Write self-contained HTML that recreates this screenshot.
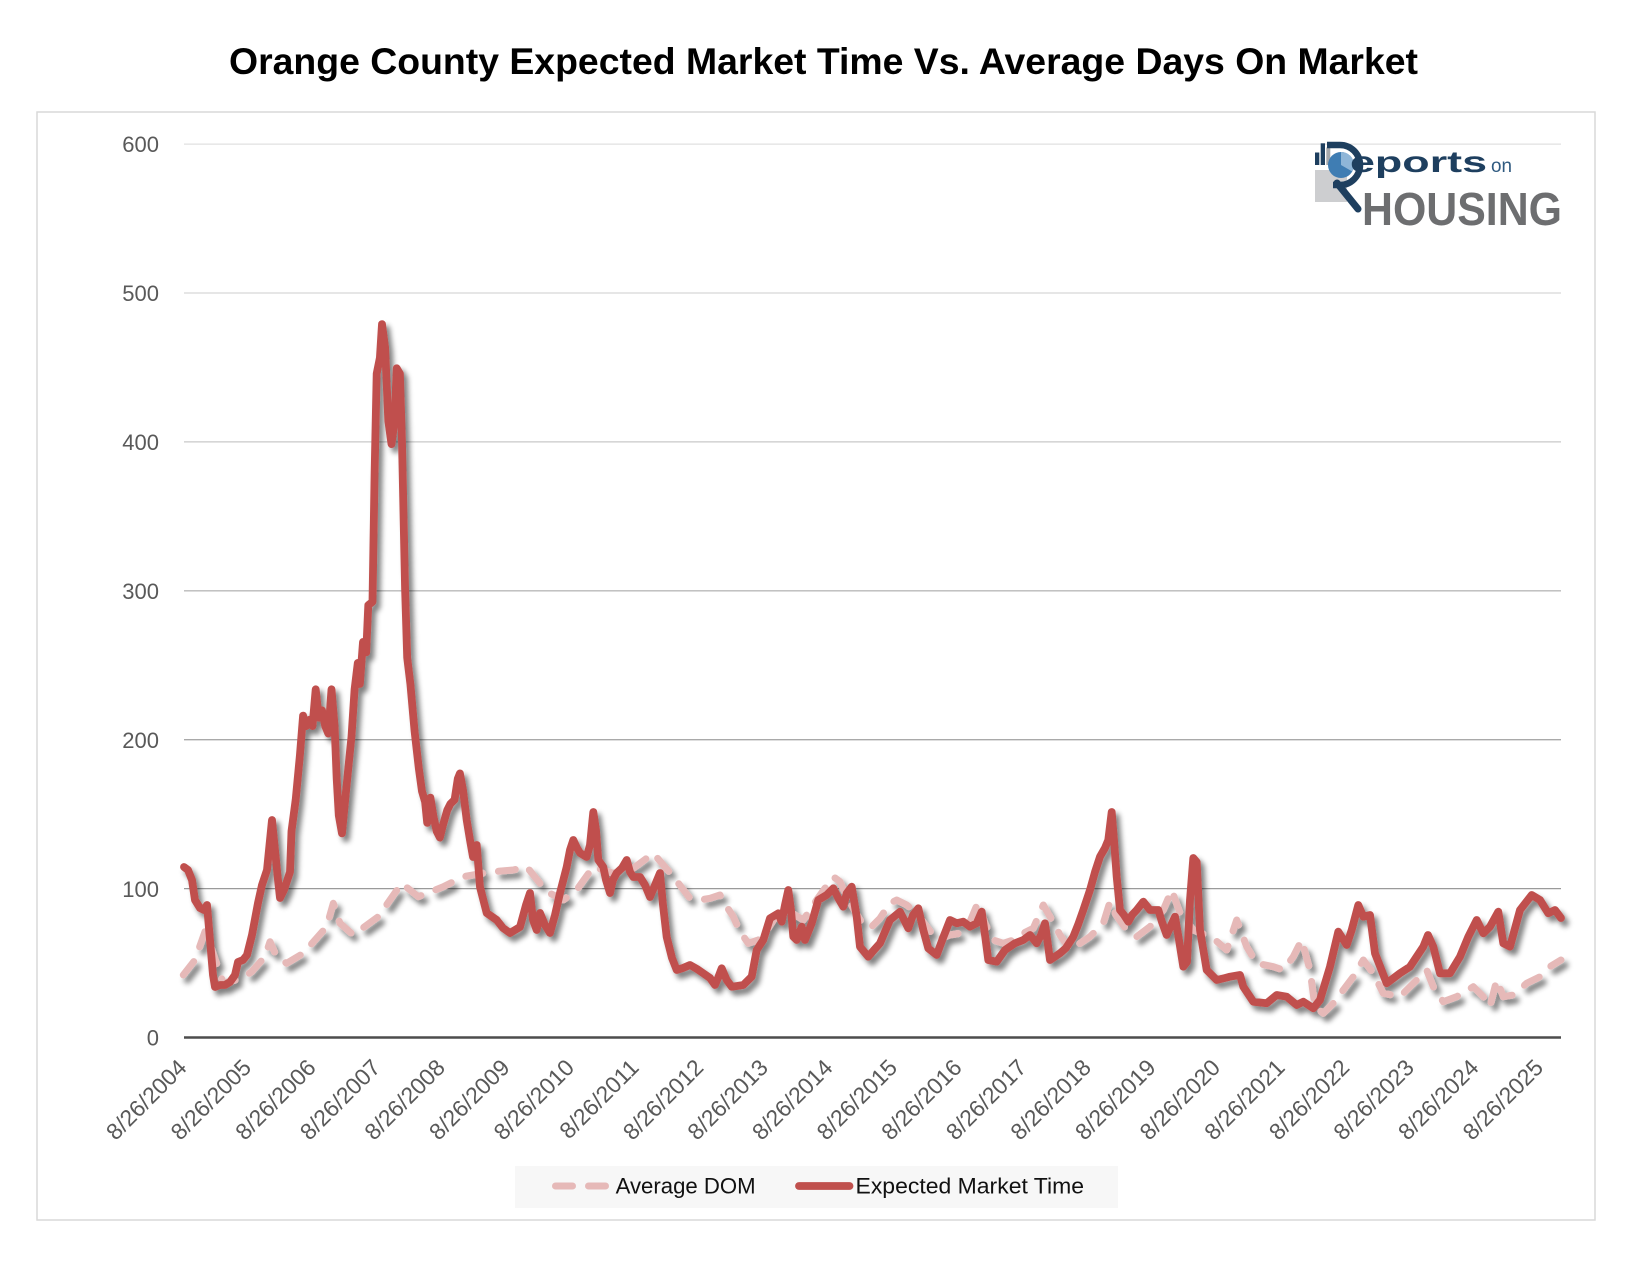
<!DOCTYPE html>
<html>
<head>
<meta charset="utf-8">
<style>
  html, body { margin: 0; padding: 0; background: #ffffff; }
  svg { display: block; }
</style>
</head>
<body>
<svg xmlns="http://www.w3.org/2000/svg" width="1650" height="1275" viewBox="0 0 1650 1275">
  <defs>
    <filter id="sh" x="-5%" y="-5%" width="110%" height="110%">
      <feGaussianBlur in="SourceAlpha" stdDeviation="2.6" result="b"/>
      <feOffset in="b" dx="4" dy="5" result="o"/>
      <feComponentTransfer in="o" result="s"><feFuncA type="linear" slope="0.5"/></feComponentTransfer>
      <feMerge><feMergeNode in="s"/><feMergeNode in="SourceGraphic"/></feMerge>
    </filter>
  </defs>
  <rect width="1650" height="1275" fill="#ffffff"/>

  <!-- Title -->
  <text x="823.5" y="74" text-anchor="middle" font-family="'Liberation Sans', Arial, sans-serif" font-weight="bold" font-size="37" fill="#000" textLength="1189" lengthAdjust="spacingAndGlyphs">Orange County Expected Market Time Vs. Average Days On Market</text>

  <!-- Chart frame -->
  <rect x="37" y="112" width="1558" height="1108" fill="#ffffff" stroke="#d9d9d9" stroke-width="1.5"/>

  <!-- Gridlines -->
  <g stroke-width="1.3">
    <line x1="184" y1="144.1" x2="1561" y2="144.1" stroke="#e0e0e0"/>
    <line x1="184" y1="293.0" x2="1561" y2="293.0" stroke="#d6d6d6"/>
    <line x1="184" y1="441.9" x2="1561" y2="441.9" stroke="#c9c9c9"/>
    <line x1="184" y1="590.8" x2="1561" y2="590.8" stroke="#b9b9b9"/>
    <line x1="184" y1="739.7" x2="1561" y2="739.7" stroke="#a9a9a9"/>
    <line x1="184" y1="888.6" x2="1561" y2="888.6" stroke="#9a9a9a"/>
  </g>

  <!-- Y labels -->
  <g font-family="'Liberation Sans', Arial, sans-serif" font-size="22" fill="#595959" text-anchor="end">
    <text x="159" y="152">600</text>
    <text x="159" y="301">500</text>
    <text x="159" y="450">400</text>
    <text x="159" y="599">300</text>
    <text x="159" y="748">200</text>
    <text x="159" y="897">100</text>
    <text x="159" y="1045.5">0</text>
  </g>

  <!-- Logo -->
  <g>
    <rect x="1315" y="170" width="32" height="32" fill="#cdced0"/>
    <rect x="1315" y="152.5" width="4.3" height="12.5" fill="#1e3f5f"/>
    <rect x="1320.7" y="143.3" width="4.3" height="21.7" fill="#1e3f5f"/>
    <rect x="1326.3" y="147.5" width="4" height="17.5" fill="#a7a9ac"/>
    <circle cx="1341" cy="165" r="13" fill="#3f7db3"/>
    <path d="M1341,165 L1341,152 A13,13 0 0 1 1352.3,171.5 Z" fill="#8fb6d8"/>
    <path d="M1327,145 L1340,145 A20,20 0 0 1 1340,185 L1333,185" fill="none" stroke="#1e3f5f" stroke-width="6.5"/>
    <line x1="1337" y1="183" x2="1358" y2="209" stroke="#1e3f5f" stroke-width="7" stroke-linecap="round"/>
    <text x="1350" y="172" font-family="'Liberation Sans', Arial, sans-serif" font-weight="bold" font-size="30" fill="#1e3f5f" textLength="137" lengthAdjust="spacingAndGlyphs">eports</text>
    <text x="1491" y="172" font-family="'Liberation Sans', Arial, sans-serif" font-size="19" fill="#2f5a80" textLength="21" lengthAdjust="spacingAndGlyphs">on</text>
    <text x="1362" y="225" font-family="'Liberation Sans', Arial, sans-serif" font-weight="bold" font-size="46" fill="#6d6e70" textLength="200" lengthAdjust="spacingAndGlyphs">HOUSING</text>
  </g>

  <!-- Series -->
  <g filter="url(#sh)" fill="none" stroke-linejoin="round">
    <polyline stroke="#e6b9b8" stroke-width="7" stroke-linecap="round" stroke-dasharray="17 16"
      points="183.3,975 195,960 205,931.7 212,950 223.3,983.3 241.7,978.3 251.7,971.7 265,956.7 270,941.7 276.7,956.7 286.7,963.3 303.3,953.3 326.7,926.7 333.3,903.3 340,923.3 353.3,935 378.3,916.7 401.7,883.3 418.3,896.7 443.3,886.7 463.3,876.7 490,872 513.3,870 526.7,866.7 546.7,891.7 563.3,900 576.7,890 593.3,866.7 613.3,873.3 633.3,868.3 653.3,853.3 673.3,876.7 690,898.3 700,900 710,898.3 720,895 726.7,906.7 733.3,916.7 740,931.7 748.3,943.3 758.3,940 768.3,928.3 776.7,915 790,912 803.3,920 818,898 833.3,876.7 840,881.7 846.7,896.7 860,920 870,928.3 880,918.3 890,903.3 896.7,900 906.7,905 916.7,913.3 926.7,926.7 936.7,940 950,935 960,933.3 970,921.7 978.3,901.7 985,923.3 993.3,940 1003.3,943.3 1013.3,940 1023.3,933.3 1033.3,928.3 1043.3,905 1050,916.7 1060,935 1070,950 1090,936.7 1103.3,923.3 1110,901.7 1116,915 1126.7,930 1136.7,936.7 1150,926.7 1163.3,910 1171.7,890 1180,913 1193.3,930 1213.3,938.3 1226.7,950 1236.7,920 1246.7,946.7 1256.7,963.3 1273.3,966.7 1283.3,970 1293.3,956.7 1301.7,940 1310,970 1315,1006.7 1323.3,1013.3 1333.3,1003.3 1343.3,990 1353.3,976.7 1363.3,960 1373.3,973.3 1383.3,993.3 1400,996.7 1416.7,980 1426.7,970 1433.3,986.7 1443.3,1001.7 1456.7,996.7 1473.3,986.7 1483.3,996.7 1490,1006.7 1496.7,980 1503.3,996.7 1513.3,995 1526.7,983.3 1540,976.7 1550,966.7 1561,960"/>
    <polyline stroke="#c0504d" stroke-width="7.8" stroke-linecap="round"
      points="184,867 188,870 192,880 195,900 200,908 204,910 207,905 210,940 213,975 215,987 220,985 225,985 230,982 235,975 238,962 243,960 247,955 252,935 258,903 262,885 267,870 270,840 272,820 275,850 278,880 280,898 284,890 290,872 291.5,831.3 295.7,799.7 299.9,755.5 303.1,715.6 306.2,726.1 309.4,719.8 312.5,726.1 315.7,689.3 318.8,717.7 322,710.3 325.2,726.1 328.3,733.5 331.5,689.3 334.6,726.1 336.7,778.7 338.8,815.5 342,833.4 345.2,799.7 348.3,768.2 351.5,736.6 354.6,689.3 357.8,662.9 359.9,684 363,641.9 366.2,652.4 368.3,605.1 372.5,601.9 374.6,473.5 376.7,373.6 379.9,357.8 382,324.1 385.1,347.3 388.3,420.9 391.5,444.1 394.6,420.9 396.7,368.3 399.9,373.6 402,442 405.1,589.3 407.2,657.7 410.4,684 414.6,731.3 418.8,768.2 422,791.3 425.1,801.9 427.2,822.9 430.4,797.6 433.5,816.6 436.7,831.3 439.9,837.6 443,825 447.2,810.3 450.4,803.9 454.6,799.7 457.8,778.7 459.9,773.4 463,790 466.7,820 470,840 473,857 476.7,845 480,887 486.7,913 496.7,920 503,928 510,933 520,927 526,905 530,893 533,920 536.7,930 540,913 545,925 550,933 555,915 560,893 566.7,867 570,850 573.3,840 577,848 580,853 586.7,857 590,845 593.3,812 596,830 598.3,860 603.3,867 606,880 610,893 613,880 616.7,873 622,868 626.7,860 630,872 633.3,877 640,877 645,885 650,897 655,885 660,873 663,905 666.7,937 672,958 676.7,970 683,968 690,965 697,969 703.3,973.3 710,978 715,985 718,978 721.7,968.3 726.7,980 731.7,986.7 737,986 743.3,985 751.7,976.7 756.7,950 763.3,940 770,918.3 778.3,913.3 781.7,921.7 785,905 788.3,890 791,910 793.3,936.7 796.7,940 801.7,926.7 805,940 811.7,923.3 818.3,900 826.7,895 833.3,888.3 838.3,898.3 843.3,906.7 846.7,893.3 851.7,886.7 856.7,916.7 860,946.7 868.3,956.7 874,950 880,943.3 890,920 900,911.7 908.3,928.3 913,915 918.3,908.3 923.3,930 928.3,948.3 936.7,955 943,938 950,920 956.7,923.3 963.3,921.7 970,926.7 976.7,923.3 981.7,911.7 985,935 988.3,960 996.7,961.7 1005,950 1015,943.3 1023.3,940 1030,935 1036.7,943.3 1041,935 1045,923.3 1050,960 1060,953.3 1066,948 1073.3,936.7 1078,925 1083.3,910 1090,890 1095,872 1100,856.7 1105,848 1108.3,840 1111.7,812 1114,840 1116.7,876.7 1120,910 1124,915 1128.3,921.7 1132,915 1136.7,910 1143.3,901.7 1150,910 1158.3,910 1162,922 1166.7,935 1175,916.7 1179,940 1183.3,966.7 1187,962 1190,900 1193.3,858 1196.7,862 1200,930 1206.7,970 1216.7,980 1225,978 1230,976.7 1240,975 1243.3,986.7 1253.3,1001.7 1266.7,1003.3 1276.7,995 1286.7,996.7 1296.7,1005 1303.3,1001.7 1313.3,1008.3 1320,1000 1330,966.7 1338.3,931.7 1346.7,945 1351.7,930 1358.3,905 1363.3,916.7 1370,915 1375,953.3 1386.7,983.3 1400,973.3 1410,966.7 1423.3,946.7 1428,935 1433.3,946.7 1440,973.3 1450,973.3 1460,956.7 1468.3,936.7 1476.7,920 1483.3,933.3 1490,926.7 1498.3,911.7 1503.3,943.3 1510,946.7 1520,910 1531.7,895 1540,900 1548.3,913.3 1555,910 1561,918"/>
  </g>

  <!-- X axis line -->
  <line x1="184" y1="1037.5" x2="1561" y2="1037.5" stroke="#4d4d4d" stroke-width="2.6"/>

  <!-- X tick labels -->
  <g font-family="'Liberation Sans', Arial, sans-serif" font-size="23" fill="#595959" text-anchor="end">
    <text transform="translate(188,1069) rotate(-45)">8/26/2004</text>
    <text transform="translate(252.6,1069) rotate(-45)">8/26/2005</text>
    <text transform="translate(317.2,1069) rotate(-45)">8/26/2006</text>
    <text transform="translate(381.8,1069) rotate(-45)">8/26/2007</text>
    <text transform="translate(446.4,1069) rotate(-45)">8/26/2008</text>
    <text transform="translate(511,1069) rotate(-45)">8/26/2009</text>
    <text transform="translate(575.6,1069) rotate(-45)">8/26/2010</text>
    <text transform="translate(640.2,1069) rotate(-45)">8/26/2011</text>
    <text transform="translate(704.8,1069) rotate(-45)">8/26/2012</text>
    <text transform="translate(769.4,1069) rotate(-45)">8/26/2013</text>
    <text transform="translate(834,1069) rotate(-45)">8/26/2014</text>
    <text transform="translate(898.6,1069) rotate(-45)">8/26/2015</text>
    <text transform="translate(963.2,1069) rotate(-45)">8/26/2016</text>
    <text transform="translate(1027.8,1069) rotate(-45)">8/26/2017</text>
    <text transform="translate(1092.4,1069) rotate(-45)">8/26/2018</text>
    <text transform="translate(1157,1069) rotate(-45)">8/26/2019</text>
    <text transform="translate(1221.6,1069) rotate(-45)">8/26/2020</text>
    <text transform="translate(1286.2,1069) rotate(-45)">8/26/2021</text>
    <text transform="translate(1350.8,1069) rotate(-45)">8/26/2022</text>
    <text transform="translate(1415.4,1069) rotate(-45)">8/26/2023</text>
    <text transform="translate(1480,1069) rotate(-45)">8/26/2024</text>
    <text transform="translate(1544.6,1069) rotate(-45)">8/26/2025</text>
  </g>

  <!-- Legend -->
  <rect x="515" y="1166" width="603" height="42" fill="#f7f7f7"/>
  <line x1="555.5" y1="1186" x2="572.5" y2="1186" stroke="#e6b9b8" stroke-width="7" stroke-linecap="round"/>
  <line x1="588.5" y1="1186" x2="605.5" y2="1186" stroke="#e6b9b8" stroke-width="7" stroke-linecap="round"/>
  <text x="615.6" y="1193.5" font-family="'Liberation Sans', Arial, sans-serif" font-size="22.4" fill="#111" textLength="140" lengthAdjust="spacingAndGlyphs">Average DOM</text>
  <line x1="799" y1="1186" x2="849.5" y2="1186" stroke="#c0504d" stroke-width="7.8" stroke-linecap="round"/>
  <text x="855.5" y="1193.5" font-family="'Liberation Sans', Arial, sans-serif" font-size="22.4" fill="#111" textLength="228.5" lengthAdjust="spacingAndGlyphs">Expected Market Time</text>
</svg>
</body>
</html>
